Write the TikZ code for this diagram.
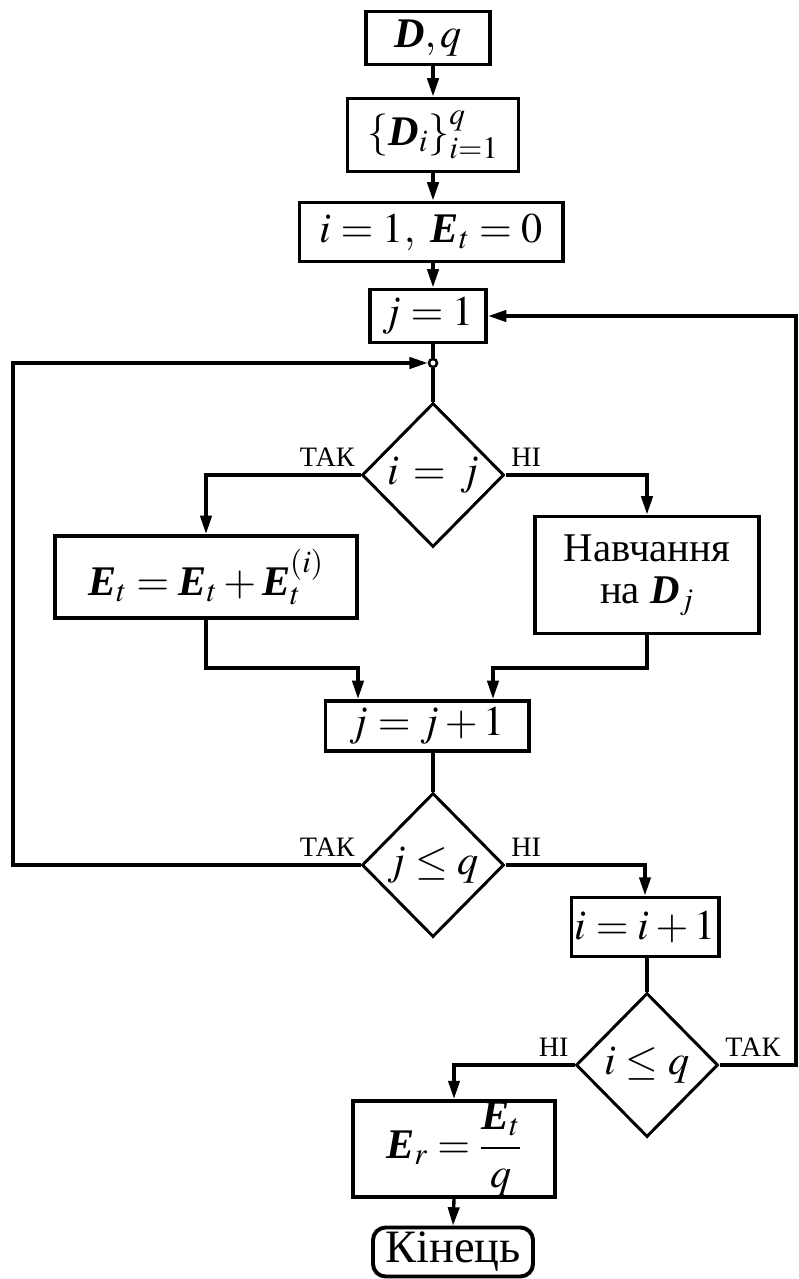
\documentclass[tikz,border=0pt]{standalone}
\usepackage{amsmath}
\usepackage{mathptmx}
\usepackage{fontspec}
\setmainfont{Liberation Serif}
\usetikzlibrary{shapes.geometric, arrows.meta, positioning}

% bold italic vectors, Times style
\newcommand{\bvec}[1]{\mathord{\textbf{\textit{#1}}}}

\tikzset{
  block/.style={draw, rectangle, line width=2.8pt, inner sep=0pt,
    font=\fontsize{30}{32}\selectfont},
  cond/.style={draw, diamond, aspect=1, line width=2.1pt, inner sep=0pt,
    minimum width=3.55cm, minimum height=3.6cm, font=\fontsize{30}{32}\selectfont},
  flow/.style={line width=2.4pt},
  arr/.style={flow, -{Triangle[length=13pt,width=8pt]}},
  answer/.style={font=\fontsize{20}{22}\selectfont, inner sep=3pt, yshift=2pt},
}

\begin{document}
\begin{tikzpicture}[x=0.025cm, y=-0.025cm]
  \useasboundingbox (0,0) rectangle (798,1279);

  % main column
  \node[block, minimum width=3.1cm, minimum height=1.325cm] (data) at (428,38) {$\bvec{D},q$};
  \node[block, minimum width=4.275cm, minimum height=1.825cm] (parts) at (433,135) {$\left\{\bvec{D}_i\right\}_{i=1}^{q}$};
  \node[block, minimum width=6.575cm, minimum height=1.475cm] (init) at (431,232) {$i=1,\ \bvec{E}_t=0$};
  \node[block, minimum width=2.9cm, minimum height=1.325cm] (jset) at (428,316) {$j=1$};
  \node[draw, circle, line width=1.8pt, fill=white, inner sep=0pt, minimum size=0.2cm] (merge) at (433,363) {};
  \node[cond] (ij) at (433,475) {$i\,=\,j$};

  % two branches
  \node[block, minimum width=7.55cm, minimum height=2.05cm] (acc) at (206,577) {$\bvec{E}_t=\bvec{E}_t+\bvec{E}_t^{(i)}$};
  \node[block, minimum width=5.6cm, minimum height=2.925cm, align=center,
    font=\fontsize{29}{30}\selectfont] (train) at (647,575) {Навчання\\на $\bvec{D}_j$};

  \node[block, minimum width=5.075cm, minimum height=1.25cm] (jinc) at (427,726) {$j=j+1$};
  \node[cond] (jq) at (433,865) {$j\le q$};
  \node[block, minimum width=3.675cm, minimum height=1.475cm] (iinc) at (645,927) {$i=i+1$};
  \node[cond] (iq) at (647,1065) {$i\le q$};
  \node[block, minimum width=5.05cm, minimum height=2.4cm] (res) at (454,1149) {$\bvec{E}_r=\dfrac{\bvec{E}_t}{q}$};
  \node[block, rounded corners=9pt, minimum width=4cm, minimum height=1.225cm,
    font=\fontsize{33}{34}\selectfont] (stop) at (453,1252) {Кінець};

  % bends of the loops
  \coordinate (joinL) at (358,668);
  \coordinate (joinR) at (493,668);
  \coordinate (loopL) at (13,363);
  \coordinate (loopR) at (796,316);

  \draw[arr] (parts.north |- data.south) -- (parts.north);
  \draw[arr] (parts.south) -- (parts.south |- init.north);
  \draw[arr] (parts.south |- init.south) -- (parts.south |- jset.north);
  \draw[flow] (merge.north |- jset.south) -- (merge.north);
  \draw[flow] (merge.south) -- (ij.north);

  \draw[arr] (ij.west) node[answer, above left] {ТАК} -| (acc.north);
  \draw[arr] (ij.east) node[answer, above right] {НІ} -| (train.north);
  \draw[arr] (acc.south) |- (joinL) -- (joinL |- jinc.north);
  \draw[arr] (train.south) |- (joinR) -- (joinR |- jinc.north);

  \draw[flow] (jq.north |- jinc.south) -- (jq.north);
  \draw[arr] (jq.west) node[answer, above left] {ТАК} -| (loopL) -- (merge.west);
  \draw[arr] (jq.east) node[answer, above right] {НІ} -| (iinc.north);

  \draw[flow] (iq.north |- iinc.south) -- (iq.north);
  \draw[arr] (iq.west) node[answer, above left] {НІ} -| (res.north);
  \draw[arr] (iq.east) node[answer, above right] {ТАК} -| (loopR) -- (jset.east);
  \draw[arr] (res.south) -- (stop.north);
\end{tikzpicture}
\end{document}
